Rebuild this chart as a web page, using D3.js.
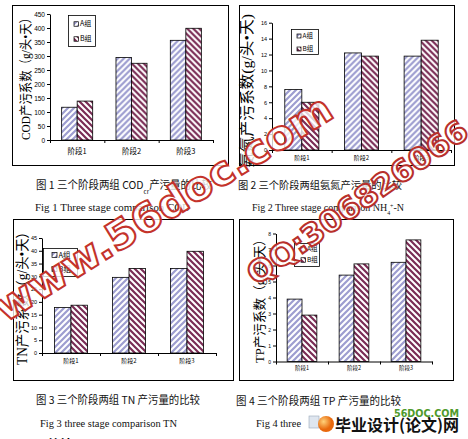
<!DOCTYPE html>
<html>
<head>
<meta charset="utf-8">
<script src="https://cdn.jsdelivr.net/npm/d3@7"></script>
<style>
    body { margin: 0; background: #fff; }
    svg { display: block; }
</style>
</head>
<body>
<div id="graphic"></div>
<script>
var stages = ['阶段1', '阶段2', '阶段3'];
var groups = ['A组', 'B组'];

var codA = [117, 295, 356];
var codB = [139, 274, 399];
var nhA = [7.6, 12.2, 11.8];
var nhB = [6.0, 11.8, 13.8];
var tnA = [17.8, 29.6, 33.1];
var tnB = [18.7, 33.1, 39.8];
var tpA = [3.9, 5.4, 6.2];
var tpB = [2.9, 6.1, 7.6];

var codTicks = [0, 50, 100, 150, 200, 250, 300, 350, 400, 450];
var nhTicks = [0, 2, 4, 6, 8, 10, 12, 14, 16];
var tnTicks = [0, 5, 10, 15, 20, 25, 30, 35, 40, 45];
var tpTicks = [0, 1, 2, 3, 4, 5, 6, 7, 8];

var serif = "'Liberation Serif', 'Noto Sans CJK SC', serif";
var cjk = "'Noto Sans CJK SC', 'Liberation Serif', sans-serif";

// SVG
var svg = d3.select('#graphic')
    .append('svg')
    .attr('width', 468)
    .attr('height', 439);

var defs = svg.append('defs');

// Pattern a righe diagonali per le due serie
function addStripes(id, color, d) {
    var p = defs.append('pattern')
        .attr('id', id)
        .attr('patternUnits', 'userSpaceOnUse')
        .attr('width', 6)
        .attr('height', 6);
    p.append('rect').attr('width', 6).attr('height', 6).attr('fill', '#fff');
    p.append('path').attr('d', d).attr('stroke', color).attr('stroke-width', 2.2);
}
addStripes('stripeA', '#9d9dd0', 'M-1,1 L1,-1 M0,6 L6,0 M5,7 L7,5');
addStripes('stripeB', '#7a2c55', 'M-1,5 L1,7 M0,0 L6,6 M5,-1 L7,1');

function fillOf(group) {
    return group === groups[0] ? 'url(#stripeA)' : 'url(#stripeB)';
}

// Disegna un pannello
function drawPanel(cfg) {
    var g = svg.append('g');

    g.append('rect')
        .attr('x', cfg.frame[0] + 0.5)
        .attr('y', cfg.frame[1] + 0.5)
        .attr('width', cfg.frame[2])
        .attr('height', cfg.frame[3])
        .attr('fill', '#fff')
        .attr('stroke', '#000')
        .attr('stroke-width', 1);

    var x = d3.scaleBand()
        .domain(stages)
        .range([cfg.x0, cfg.x1]);
    var xi = d3.scaleBand()
        .domain(groups)
        .range([0, x.bandwidth()])
        .paddingOuter(0.75);
    var y = d3.scaleLinear()
        .domain([0, d3.max(cfg.ticks)])
        .range([cfg.y0, cfg.y1]);

    var rows = stages.map(function (s, i) {
        return {stage: s, values: [cfg.a[i], cfg.b[i]]};
    });

    var node = g.selectAll('.stage')
        .data(rows)
        .enter()
        .append('g')
        .attr('class', 'stage')
        .attr('transform', function (d) {
            return 'translate(' + x(d.stage) + ',0)';
        });

    node.selectAll('rect')
        .data(function (d) {
            return d.values.map(function (v, j) {
                return {group: groups[j], value: v};
            });
        })
        .enter()
        .append('rect')
        .attr('x', function (d) { return xi(d.group); })
        .attr('width', xi.bandwidth())
        .attr('y', function (d) { return y(d.value); })
        .attr('height', function (d) { return cfg.y0 - y(d.value); })
        .attr('fill', function (d) { return fillOf(d.group); })
        .attr('stroke', '#000')
        .attr('stroke-width', 0.8);

    // Y-axis
    g.append('g')
        .attr('transform', 'translate(' + cfg.x0 + ',0)')
        .call(d3.axisLeft(y).tickValues(cfg.ticks).tickSize(3).tickSizeOuter(0).tickPadding(2))
        .call(function (a) {
            a.selectAll('text')
                .style('font-family', "'Liberation Sans', sans-serif")
                .style('font-size', cfg.tickFont + 'px')
                .attr('fill', '#000');
        });

    // X-axis (tacche fra le categorie)
    var xb = d3.scaleLinear().domain([0, stages.length]).range([cfg.x0, cfg.x1]);
    g.append('g')
        .attr('transform', 'translate(0,' + cfg.y0 + ')')
        .call(d3.axisBottom(xb).tickValues(d3.range(stages.length + 1)).tickFormat('').tickSize(3).tickSizeOuter(0));

    // etichette delle categorie
    g.append('g')
        .attr('transform', 'translate(0,' + cfg.y0 + ')')
        .call(d3.axisBottom(x).tickSize(0).tickPadding(cfg.catPad))
        .call(function (a) {
            a.select('.domain').remove();
            a.selectAll('text')
                .style('font-family', cjk)
                .style('font-size', cfg.catFont + 'px')
                .attr('fill', '#000');
        });

    // Legenda
    var lg = cfg.legend;
    g.append('rect')
        .attr('x', lg.x + 0.5)
        .attr('y', lg.y + 0.5)
        .attr('width', lg.w)
        .attr('height', lg.h)
        .attr('fill', '#fff')
        .attr('stroke', '#000')
        .attr('stroke-width', 0.8);
    var item = g.selectAll('.leg')
        .data(groups)
        .enter()
        .append('g')
        .attr('class', 'leg')
        .attr('transform', function (d, i) {
            return 'translate(' + lg.sx + ',' + lg.rows[i] + ')';
        });
    item.append('rect')
        .attr('x', 0)
        .attr('y', -lg.s / 2)
        .attr('width', lg.s)
        .attr('height', lg.s)
        .attr('fill', function (d) { return fillOf(d); })
        .attr('stroke', '#000')
        .attr('stroke-width', 0.7);
    item.append('text')
        .attr('x', lg.s + 1.5)
        .attr('dy', '0.35em')
        .style('font-family', cjk)
        .style('font-size', lg.font + 'px')
        .text(function (d) { return d; });

    // titolo asse y
    g.append('text')
        .attr('transform', 'translate(' + cfg.title.x + ',' + cfg.title.y + ') rotate(-90)')
        .attr('text-anchor', 'middle')
        .attr('dominant-baseline', 'central')
        .attr('textLength', cfg.title.len)
        .attr('lengthAdjust', 'spacingAndGlyphs')
        .style('font-family', serif)
        .style('font-size', cfg.title.font + 'px')
        .text(cfg.title.text);
}

drawPanel({
    a: codA, b: codB, ticks: codTicks,
    frame: [12, 5, 216, 160], x0: 50, x1: 213, y0: 140, y1: 14,
    tickFont: 6.5, catFont: 7.5, catPad: 9,
    legend: {x: 68, y: 15, w: 27, h: 31, sx: 74, rows: [24, 39], s: 4.5, font: 7},
    title: {x: 25, y: 76, len: 128, font: 13, text: 'COD产污系数（g/头•天）'}
});
drawPanel({
    a: nhA, b: nhB, ticks: nhTicks,
    frame: [239, 5, 215, 160], x0: 272, x1: 451, y0: 150, y1: 22.7,
    tickFont: 5.5, catFont: 6, catPad: 6,
    legend: {x: 291, y: 29, w: 27, h: 25, sx: 297, rows: [36, 49], s: 4, font: 6.5},
    title: {x: 247, y: 91, len: 154, font: 15, text: '氨氮产污系数(g/头•天)'}
});
drawPanel({
    a: tnA, b: tnB, ticks: tnTicks,
    frame: [13, 219, 220, 161], x0: 42, x1: 216, y0: 353, y1: 238,
    tickFont: 5.5, catFont: 6, catPad: 6,
    legend: {x: 43, y: 248, w: 34, h: 28, sx: 52, rows: [255, 269], s: 5, font: 7.5},
    title: {x: 22, y: 295, len: 140, font: 14, text: 'TN产污系数（g/头•天）'}
});
drawPanel({
    a: tpA, b: tpB, ticks: tpTicks,
    frame: [239, 219, 214, 161], x0: 276, x1: 432, y0: 361.5, y1: 233.5,
    tickFont: 5, catFont: 5.5, catPad: 5,
    legend: {x: 294, y: 243, w: 25, h: 23, sx: 301, rows: [249, 260], s: 4.5, font: 6.5},
    title: {x: 259, y: 298, len: 130, font: 13, text: 'TP产污系数（g/头•天）'}
});

// Didascalie
function caption(xp, yp, len, size, family, parts) {
    var t = svg.append('text')
        .attr('x', xp)
        .attr('y', yp)
        .attr('textLength', len)
        .attr('lengthAdjust', 'spacingAndGlyphs')
        .style('font-family', family)
        .style('font-size', size + 'px')
        .attr('fill', '#111');
    parts.forEach(function (p) {
        var s = t.append('tspan').text(p.t);
        if (p.shift) {
            s.attr('baseline-shift', p.shift).style('font-size', (size * 0.6) + 'px');
        }
    });
}
caption(36, 189, 176, 11, cjk, [{t: '图 1 三个阶段两组 COD'}, {t: 'cr', shift: 'sub'}, {t: '产污量的比较'}]);
caption(238, 189, 164, 10.5, cjk, [{t: '图 2 三个阶段两组氨氮产污量的比较'}]);
caption(35, 211, 155, 11, serif, [{t: 'Fig 1 Three stage comparison COD'}]);
caption(252, 211, 152, 11, serif, [{t: 'Fig 2 Three stage comparison NH'}, {t: '4', shift: 'sub'}, {t: '+', shift: 'super'}, {t: '-N'}]);
caption(36, 404, 164, 11, cjk, [{t: '图 3 三个阶段两组 TN 产污量的比较'}]);
caption(40, 427, 137, 11, serif, [{t: 'Fig 3 three stage comparison TN'}]);
caption(236, 405, 165, 11, cjk, [{t: '图 4 三个阶段两组 TP 产污量的比较'}]);
caption(256, 427, 45, 11, serif, [{t: 'Fig 4 three'}]);

svg.append('text')
    .attr('x', 36)
    .attr('y', 449)
    .style('font-family', cjk)
    .style('font-size', '13px')
    .style('font-weight', 'bold')
    .text('5  总结');

// Logo in basso a destra
var grad = defs.append('radialGradient').attr('id', 'globe').attr('cx', '35%').attr('cy', '35%');
grad.append('stop').attr('offset', '0%').attr('stop-color', '#ffd27a');
grad.append('stop').attr('offset', '100%').attr('stop-color', '#e8680c');
svg.append('rect')
    .attr('x', 309).attr('y', 416).attr('width', 10).attr('height', 12)
    .attr('fill', '#dfe6ef').attr('stroke', '#9aa8b8').attr('stroke-width', 0.6);
svg.append('circle')
    .attr('cx', 326).attr('cy', 424).attr('r', 8)
    .attr('fill', 'url(#globe)');
svg.append('text')
    .attr('x', 394).attr('y', 417)
    .attr('textLength', 65).attr('lengthAdjust', 'spacingAndGlyphs')
    .style('font-family', "'DejaVu Sans', sans-serif")
    .style('font-size', '10px').style('font-weight', 'bold')
    .attr('fill', '#4f9a2b')
    .text('56DOC.COM');
svg.append('text')
    .attr('x', 335).attr('y', 431)
    .attr('textLength', 124).attr('lengthAdjust', 'spacingAndGlyphs')
    .style('font-family', cjk)
    .style('font-size', '16px').style('font-weight', 'bold')
    .attr('fill', '#111')
    .text('毕业设计(论文)网');

// Filigrane
function watermark(xp, yp, angle, len, size, color, txt) {
    svg.append('text')
        .attr('transform', 'translate(' + xp + ',' + yp + ') rotate(' + angle + ')')
        .attr('textLength', len)
        .attr('lengthAdjust', 'spacingAndGlyphs')
        .style('font-family', "'DejaVu Sans', sans-serif")
        .style('font-size', size + 'px')
        .style('font-weight', 'bold')
        .attr('fill', '#fff')
        .attr('fill-opacity', 0.8)
        .attr('stroke', color)
        .attr('stroke-width', 2)
        .text(txt);
}
watermark(5, 323, -32, 390, 40, '#c4332b', 'www.56doc.com');
watermark(256, 286, -35, 262, 30, '#b8302c', 'QQ:306826066');
</script>
</body>
</html>
